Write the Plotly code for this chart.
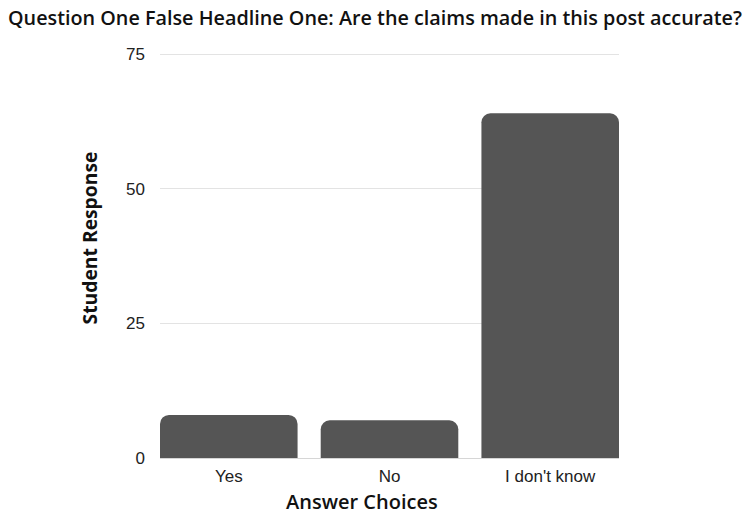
import plotly.graph_objects as go

categories = ["Yes", "No", "I don't know"]
values = [8, 7, 64]
y_ticks = [0, 25, 50, 75]

g = 0.144
fig = go.Figure(go.Bar(x=categories, y=values, marker_color="#555555",
                       marker_line_width=0, hoverinfo="x+y"))
fig.update_layout(
    width=744, height=516,
    margin=dict(l=160, r=125, t=53, b=58, autoexpand=False),
    plot_bgcolor="white", paper_bgcolor="white",
    bargap=g, barcornerradius=9,
    showlegend=False,
    title=dict(text="Question One False Headline One: Are the claims made in this post accurate?",
               xref="container", x=8 / 744, xanchor="left", yref="container", y=0.965,
               yanchor="middle",
               font=dict(family="Open Sans", size=19.8, color="#111111", weight=600)),
    font=dict(family="Liberation Sans", size=17, color="#222222"),
    annotations=[
        dict(text="Student Response", textangle=-90, xref="paper", yref="paper",
             x=-0.154, y=0.543, xanchor="center", yanchor="middle", showarrow=False,
             font=dict(family="Open Sans", size=19.3, color="#111111", weight=700)),
        dict(text="Answer Choices", xref="paper", yref="paper",
             x=0.44, y=-0.108, xanchor="center", yanchor="middle", showarrow=False,
             font=dict(family="Open Sans", size=20, color="#111111", weight=600)),
    ],
)
fig.update_xaxes(range=[-0.5 + g / 2, 2.5 - g / 2], showgrid=False, ticks="",
                 ticklabelstandoff=6, automargin=False,
                 tickfont=dict(size=17, color="#222222"))
fig.update_yaxes(range=[0, 75.2], tickvals=y_ticks, showgrid=True, gridcolor="#e3e3e3",
                 gridwidth=1, zeroline=True, zerolinecolor="#d6d6d6", zerolinewidth=1,
                 ticks="", ticklabelstandoff=14, automargin=False,
                 tickfont=dict(size=17, color="#222222"))
fig.write_html("out.html", config={"displayModeBar": False},
               post_script="document.body.style.margin='0px';document.body.style.overflow='hidden';")
